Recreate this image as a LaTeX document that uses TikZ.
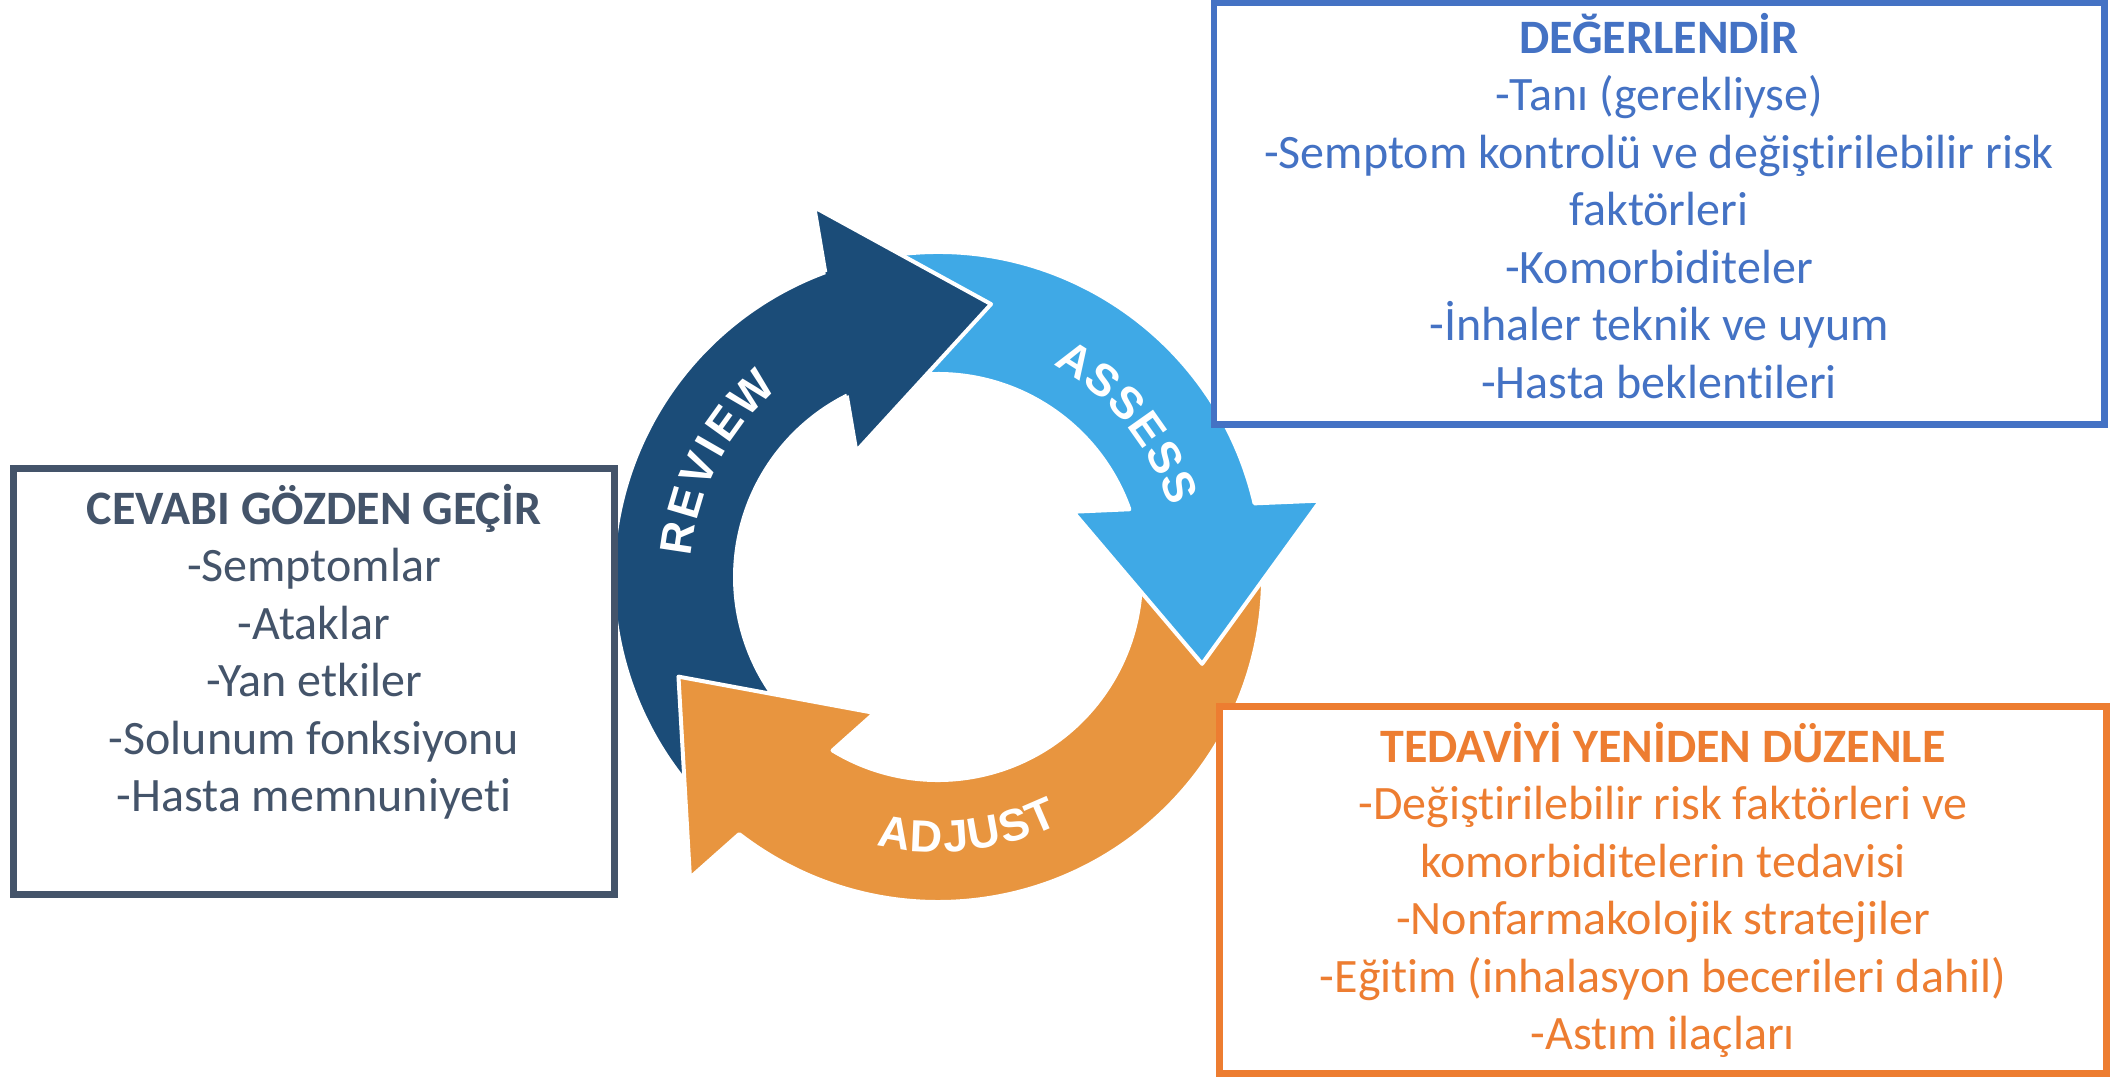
\documentclass[tikz,border=0pt]{standalone}
\usepackage{fontspec}
\setmainfont{Carlito}[Ligatures=NoCommon]
\newfontfamily\arcfont{Liberation Sans}
\definecolor{reviewnavy}{HTML}{1B4C78}
\definecolor{assesssky}{HTML}{3FA9E6}
\definecolor{adjustamber}{HTML}{E8953F}
\definecolor{slateframe}{HTML}{44546A}
\definecolor{blueframe}{HTML}{4472C4}
\definecolor{orangeframe}{HTML}{ED7D31}

\begin{document}
\begin{tikzpicture}[x=1pt, y=1pt,
  arrowpiece/.style={draw=white, line width=4pt, line join=round},
  panel/.style={draw, fill=white, line width=6.5pt, inner sep=0pt},
  bodyline/.style={anchor=base, inner sep=0pt, font=\fontsize{48}{57.6}\selectfont},
  panelhead/.style={anchor=base, inner sep=0pt, font=\fontsize{48}{57.6}\selectfont\bfseries},
  arcletter/.style={inner sep=0pt, text=white, font=\arcfont\bfseries\fontsize{45}{45}\selectfont},
]
\useasboundingbox (0,0) rectangle (2111,-1077);
\fill[white] (0,0) rectangle (2111,-1077);

% ---- the three-arrow cycle, centred on the ring ----
\begin{scope}[shift={(938,-577)}]
  % REVIEW arrow (left, pointing up and to the right)
  \path[arrowpiece, fill=reviewnavy]
    (222:325) arc[start angle=222, end angle=110.3, radius=325]
    -- (108.5:390) -- (79:278) -- (123:150) -- (116.7:203)
    arc[start angle=116.7, end angle=222, radius=203] -- cycle;
  % ADJUST arrow (bottom, pointing up and to the left)
  \path[arrowpiece, fill=adjustamber]
    (5:325) arc[start angle=5, end angle=-127.7, radius=325]
    -- (-129.5:390) -- (-159:278) -- (-115:150) -- (-121.3:203)
    arc[start angle=-121.3, end angle=5, radius=203] -- cycle;
  % ASSESS arrow (right, pointing down)
  \path[arrowpiece, fill=assesssky]
    (100:325) arc[start angle=100, end angle=13.1, radius=325]
    -- (11.3:390) -- (-18.2:278) -- (25.8:150) -- (19.5:203)
    arc[start angle=19.5, end angle=100, radius=203] -- cycle;
  % REVIEW head laid again over the ASSESS tail
  \fill[reviewnavy] (108.5:390) -- (79:278) -- (123:150) -- cycle;
  \draw[white, line width=4pt, line join=round]
    (110.3:325) -- (108.5:390) -- (79:278) -- (123:150) -- (116.7:203);

  % lettering along the ring
  \foreach \ch/\a [count=\k] in {R/171.4, E/163.5, V/155.8, I/150.1, E/144.35, W/135.3}
    \node[arcletter, rotate=\a-90] (review\k) at (\a:263) {\ch};
  \foreach \ch/\a [count=\k] in {A/57.7, S/50.0, S/42.6, E/35.2, S/27.8, S/20.4}
    \node[arcletter, rotate=\a-90] (assess\k) at (\a:257) {\ch};
  \foreach \ch/\a [count=\k] in {A/260.4, D/267.5, J/273.9, U/280.2, S/287.1, T/293.4}
    \node[arcletter, rotate=\a+90] (adjust\k) at (\a:260) {\ch};
\end{scope}

% ---- text panels ----
\node[panel, draw=slateframe, minimum width=601.4pt, minimum height=426.4pt] (reviewbox) at (314,-681.5) {};
\node[panel, draw=blueframe, minimum width=890.5pt, minimum height=422pt] (assessbox) at (1659.25,-213.5) {};
\node[panel, draw=orangeframe, minimum width=887pt, minimum height=367pt] (adjustbox) at (1663,-890) {};

% review panel
\node[panelhead, text=slateframe] (reviewtitle) at (314,-524) {CEVABI GÖZDEN GEÇİR};
\foreach \t/\y [count=\k] in {-Semptomlar/581.5, -Ataklar/639, -Yan etkiler/696.5,
    -Solunum fonksiyonu/754, -Hasta memnuniyeti/811.5}
  \node[bodyline, text=slateframe] (reviewline\k) at (314,-\y) {\t};

% assess panel
\node[panelhead, text=blueframe] (assesstitle) at (1659,-53) {DEĞERLENDİR};
\foreach \t/\y [count=\k] in {-Tanı (gerekliyse)/110.5,
    -Semptom kontrolü ve değiştirilebilir risk/168, faktörleri/225.5,
    -Komorbiditeler/283, -İnhaler teknik ve uyum/340.5, -Hasta beklentileri/398}
  \node[bodyline, text=blueframe] (assessline\k) at (1659,-\y) {\t};

% adjust panel
\node[panelhead, text=orangeframe] (adjusttitle) at (1663,-762) {TEDAVİYİ YENİDEN DÜZENLE};
\foreach \t/\y [count=\k] in {-Değiştirilebilir risk faktörleri ve/819.5,
    komorbiditelerin tedavisi/877, -Nonfarmakolojik stratejiler/934.5,
    -Eğitim (inhalasyon becerileri dahil)/992, -Astım ilaçları/1049.5}
  \node[bodyline, text=orangeframe] (adjustline\k) at (1663,-\y) {\t};
\end{tikzpicture}
\end{document}
